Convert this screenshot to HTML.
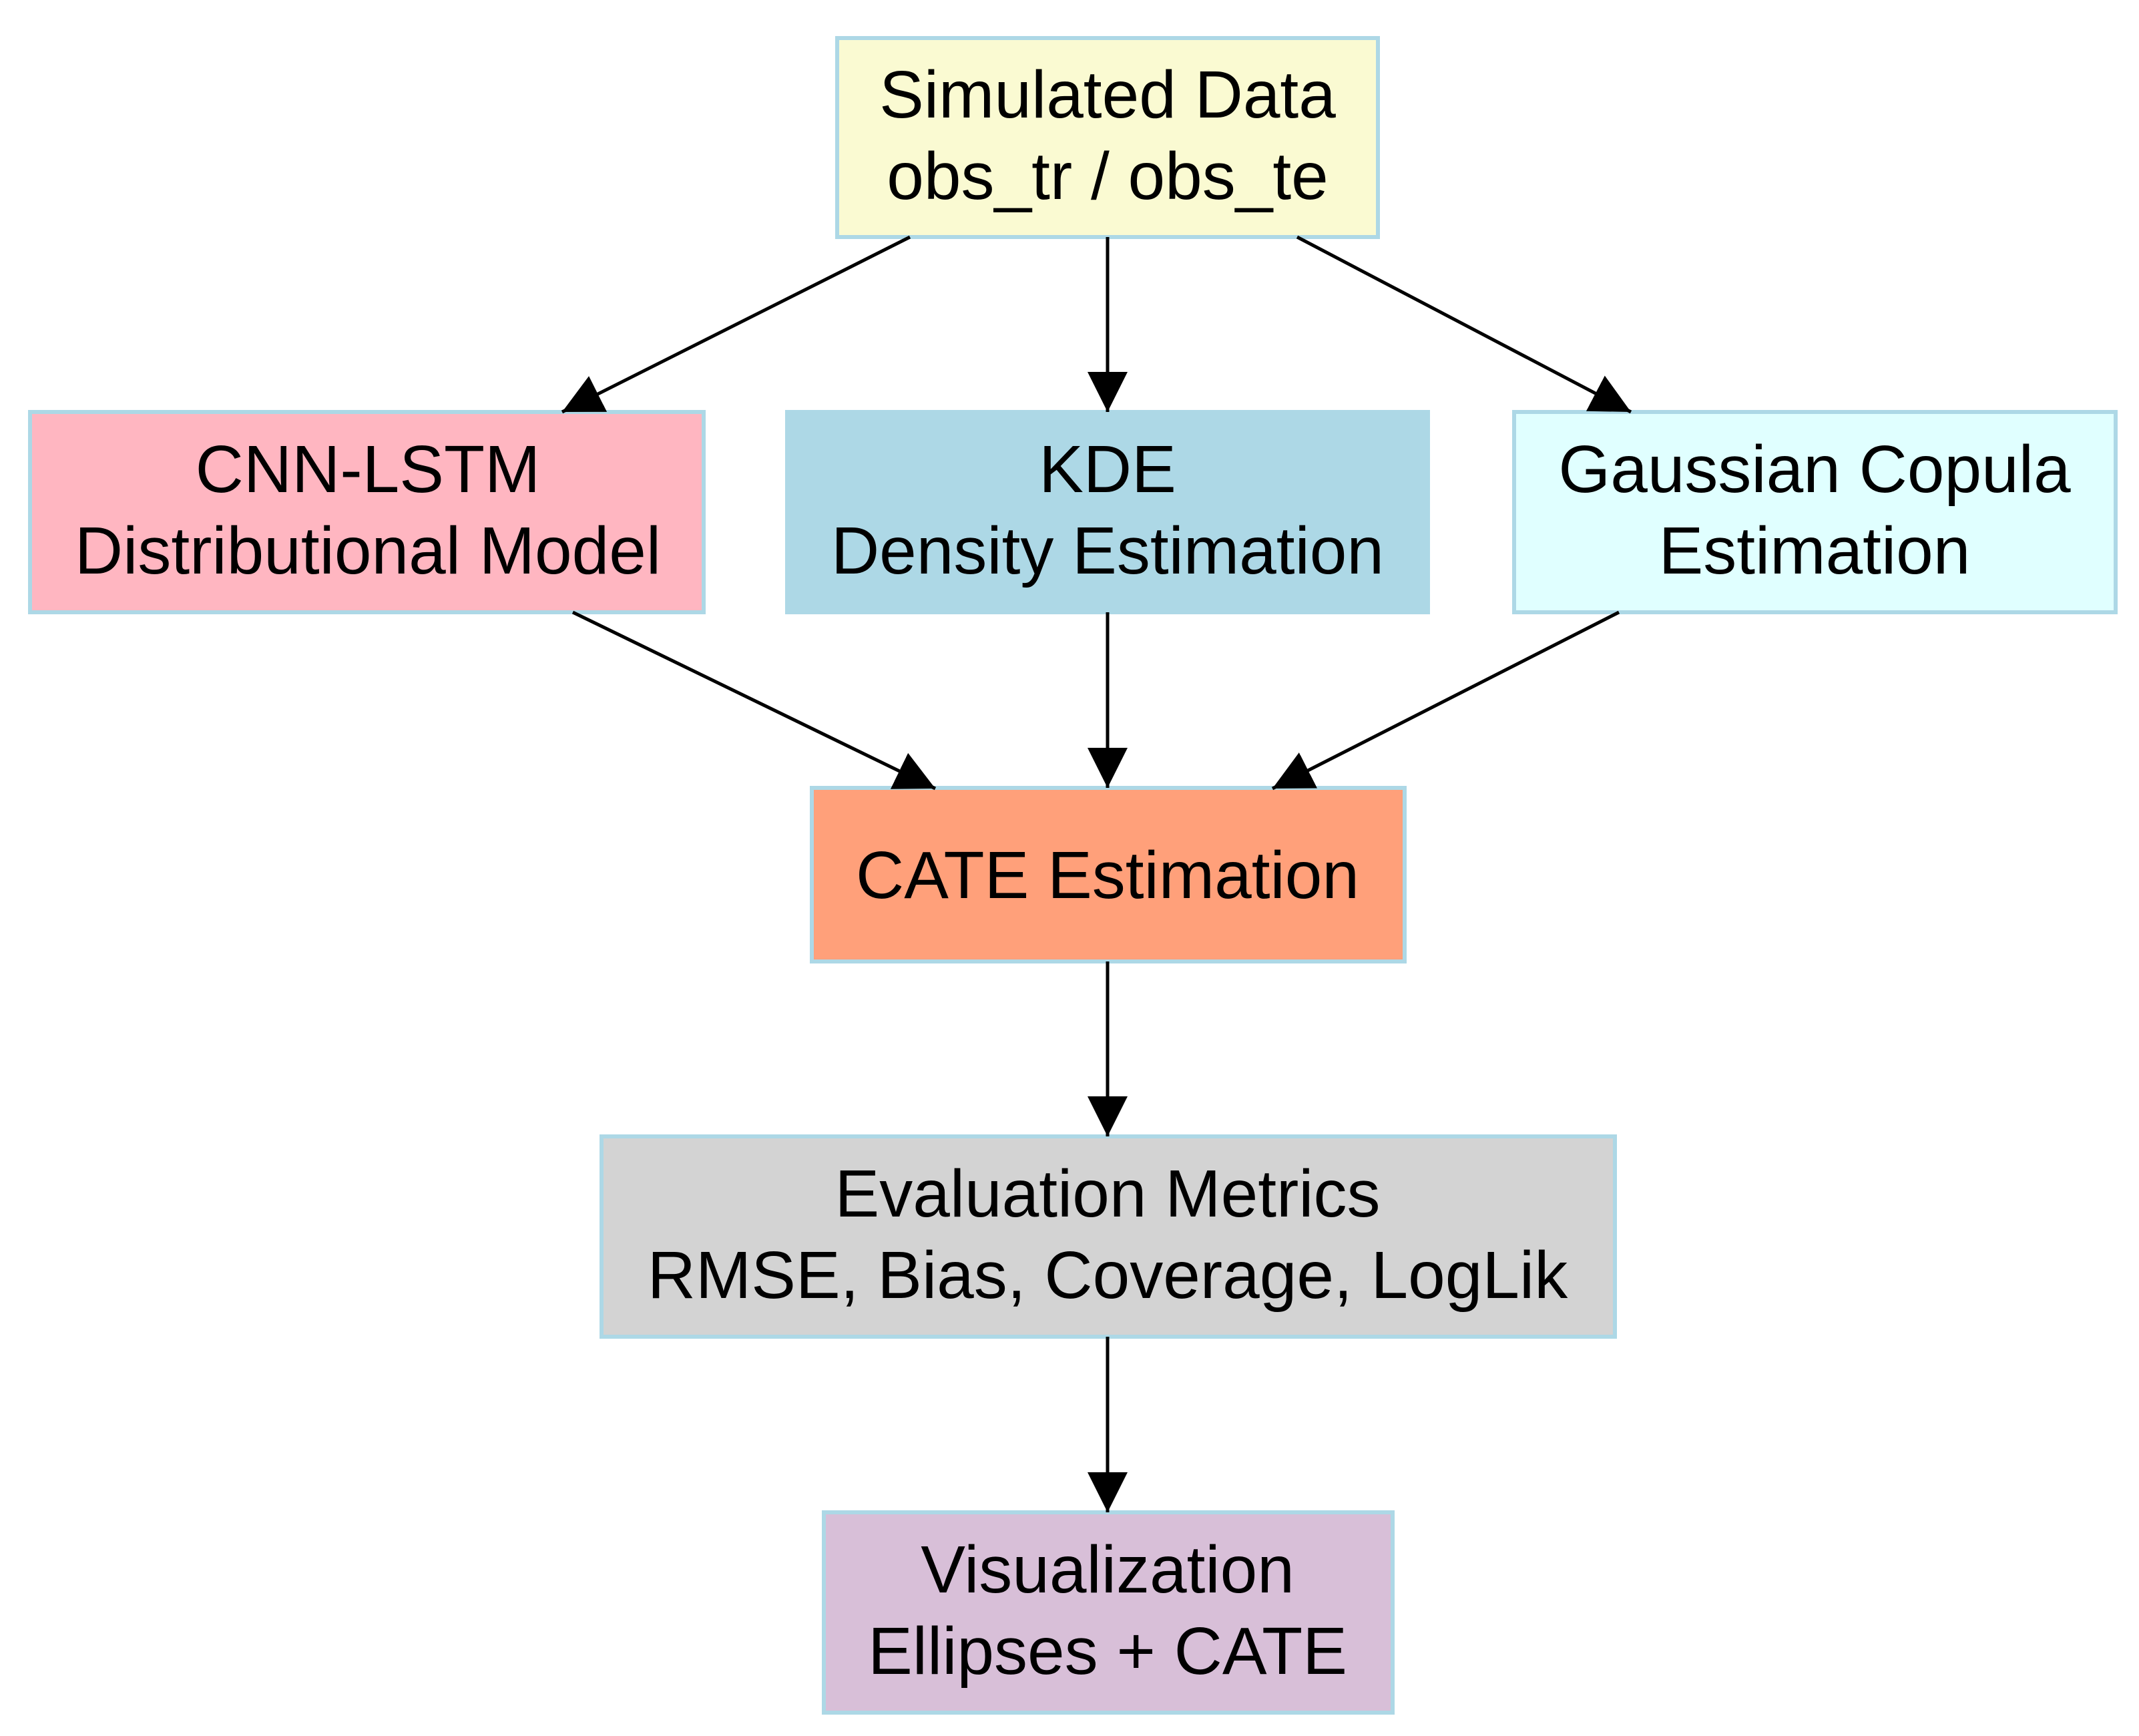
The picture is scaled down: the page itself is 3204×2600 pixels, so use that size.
<!DOCTYPE html>
<html><head><style>html,body{margin:0;padding:0;background:#fff}svg{display:block}</style></head><body>
<svg width="3204" height="2600" viewBox="0 0 3204 2600" xmlns="http://www.w3.org/2000/svg" font-family="Liberation Sans, Arial, sans-serif" font-size="100" text-anchor="middle">
<defs><marker id="a" viewBox="0 0 10 10" refX="10" refY="5" markerWidth="11" markerHeight="11" markerUnits="userSpaceOnUse" orient="auto" style="overflow:visible"><path d="M0,0 L10,5 L0,10 z" fill="#000" transform="scale(1)"/></marker>
<marker id="b" viewBox="0 0 60 60" refX="60" refY="30" markerWidth="60" markerHeight="60" markerUnits="userSpaceOnUse" orient="auto"><path d="M0,0 L60,30 L0,60 z" fill="#000"/></marker></defs>
<g stroke="#add8e6" stroke-width="6">
<rect x="1254" y="57" width="810" height="298" fill="#fafad2"/>
<rect x="45" y="617" width="1009" height="300" fill="#ffb6c1"/>
<rect x="1179" y="617" width="960" height="300" fill="#add8e6"/>
<rect x="2268" y="617" width="901" height="300" fill="#e0ffff"/>
<rect x="1216" y="1180" width="888" height="260" fill="#ffa07a"/>
<rect x="901" y="1702" width="1518" height="300" fill="#d3d3d3"/>
<rect x="1234" y="2265" width="852" height="300" fill="#d8bfd8"/>
</g>
<g stroke="#000" stroke-width="5" fill="none" marker-end="url(#b)">
<line x1="1363" y1="355" x2="842" y2="617"/>
<line x1="1659" y1="355" x2="1659" y2="617"/>
<line x1="1943" y1="355" x2="2443" y2="617"/>
<line x1="858" y1="917" x2="1401" y2="1181"/>
<line x1="1659" y1="917" x2="1659" y2="1180"/>
<line x1="2425" y1="917" x2="1906" y2="1181"/>
<line x1="1659" y1="1440" x2="1659" y2="1702"/>
<line x1="1659" y1="2002" x2="1659" y2="2265"/>
</g>
<g fill="#000">
<text x="1659" y="176">Simulated Data</text>
<text x="1659" y="298">obs_tr / obs_te</text>
<text x="551" y="737">CNN-LSTM</text>
<text x="551" y="859">Distributional Model</text>
<text x="1659" y="737">KDE</text>
<text x="1659" y="859">Density Estimation</text>
<text x="2718" y="737">Gaussian Copula</text>
<text x="2718" y="859">Estimation</text>
<text x="1659" y="1345">CATE Estimation</text>
<text x="1659" y="1822">Evaluation Metrics</text>
<text x="1659" y="1944">RMSE, Bias, Coverage, LogLik</text>
<text x="1659" y="2385">Visualization</text>
<text x="1659" y="2507">Ellipses + CATE</text>
</g>
</svg>
</body></html>
